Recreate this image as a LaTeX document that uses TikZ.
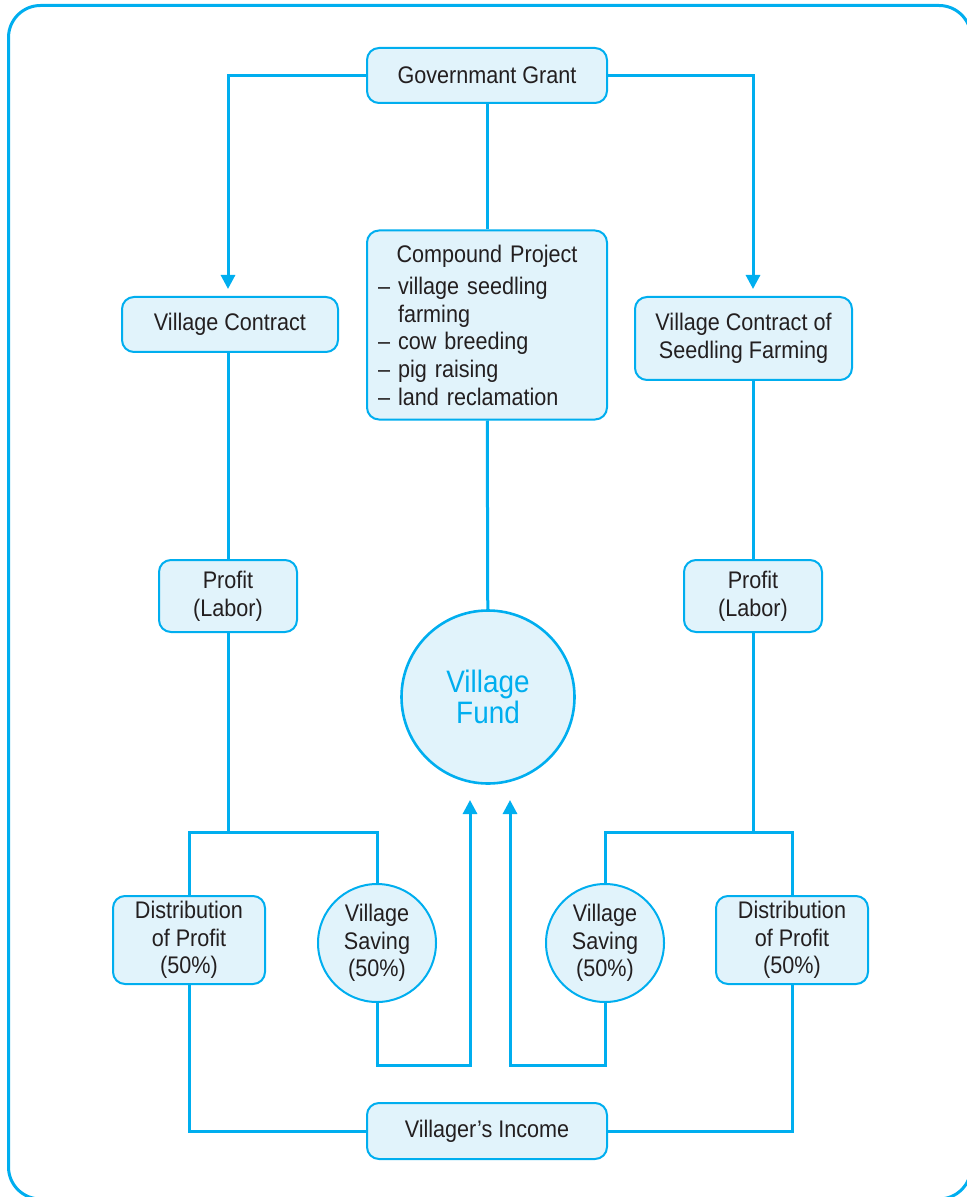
\documentclass[tikz,border=0pt]{standalone}
\usepackage{fontspec}
\setmainfont[FakeStretch=0.9]{Liberation Sans}
\usetikzlibrary{arrows.meta}

\definecolor{linecyan}{RGB}{0,174,239}
\definecolor{boxfill}{RGB}{225,243,251}
\definecolor{txtgray}{RGB}{35,31,32}

\tikzset{
	box/.style={draw=linecyan, fill=boxfill, line width=1pt, rounded corners=6pt, align=center, inner sep=2pt,
		text=txtgray, font=\fontsize{12}{13.8}\selectfont},
	bubble/.style={draw=linecyan, fill=boxfill, line width=1pt, circle, align=center, inner sep=0pt,
		text=txtgray, font=\fontsize{12}{13.8}\selectfont},
	link/.style={draw=linecyan, line width=1.5pt},
	feed/.style={link, -{Triangle[length=7pt,width=7pt]}},
}

\begin{document}
\begin{tikzpicture}[x=0.5pt, y=-0.5pt]
			\useasboundingbox (0, 0) rectangle (967, 1197);
			\clip (0, 0) rectangle (967, 1197);
			\draw[linecyan, line width=1.5pt, rounded corners=16pt] (8.5, 5.5) rectangle (971, 1199);

			\node[box, minimum width=120pt, minimum height=27.5pt] 	(grant) 	at (487, 75.5) 	{Governmant Grant};
			\node[box, minimum width=108pt, minimum height=27.5pt] 	(contract) 	at (230, 324.5) {Village Contract};
			\node[box, minimum width=120pt, minimum height=94.5pt, text width=109pt, align=left] (compound) at (487, 325)
				{\makebox[\linewidth]{Compound Project}\\[2.5pt]
				 \textendash\ village seedling\\
				 \phantom{\textendash\ }farming\\
				 \textendash\ cow breeding\\
				 \textendash\ pig raising\\
				 \textendash\ land reclamation};
			\node[box, minimum width=108.5pt, minimum height=41.5pt] (seedling) at (743.5, 338.5) {Village Contract of\\Seedling Farming};
			\node[box, minimum width=69pt, minimum height=36pt] 	(profitL) 	at (228, 596) 	{Profit\\(Labor)};
			\node[box, minimum width=69pt, minimum height=36pt] 	(profitR) 	at (753, 596) 	{Profit\\(Labor)};
			\node[bubble, minimum size=86.5pt, line width=1.3pt, text=linecyan, font=\fontsize{15.5}{15.5}\selectfont]
				(fund) at (488, 697) {Village\\Fund};
			\node[box, minimum width=76pt, minimum height=44pt] 	(distL) 	at (189, 940) 	{Distribution\\of Profit\\(50\%)};
			\node[bubble, minimum size=59pt] 						(savingL) 	at (377, 943) 	{Village\\Saving\\(50\%)};
			\node[bubble, minimum size=59pt] 						(savingR) 	at (605, 943) 	{Village\\Saving\\(50\%)};
			\node[box, minimum width=76pt, minimum height=44pt] 	(distR) 	at (792, 940) 	{Distribution\\of Profit\\(50\%)};
			\node[box, minimum width=120pt, minimum height=28pt] 	(income) 	at (487, 1131) 	{Villager’s Income};

			\coordinate (jL) at (228, 832);
			\coordinate (jR) at (753, 832);
			\coordinate (inL) at (470, 800);
			\coordinate (inR) at (510, 800);
			\coordinate (base) at (0, 1065);

			\draw[feed, shorten >=3.5pt] (grant.west) -| (contract.north -| profitL.north);
			\draw[feed, shorten >=3.5pt] (grant.east) -| (seedling.north -| profitR.north);
			\draw[link] (grant) -- (compound);
			\draw[link] (compound) -- (fund);

			\draw[link] (contract.south -| profitL.north) -- (profitL.north);
			\draw[link] (profitL.south) -- (jL);
			\draw[link] (distL.north) |- (jL) -| (savingL.north);
			\draw[link] (seedling.south -| profitR.north) -- (profitR.north);
			\draw[link] (profitR.south) -- (jR);
			\draw[link] (savingR.north) |- (jR) -| (distR.north);

			\draw[feed] (savingL.south) |- (inL |- base) -- (inL);
			\draw[feed] (savingR.south) |- (inR |- base) -- (inR);
			\draw[link] (distL.south) |- (income.west);
			\draw[link] (distR.south) |- (income.east);
		\end{tikzpicture}
\end{document}
